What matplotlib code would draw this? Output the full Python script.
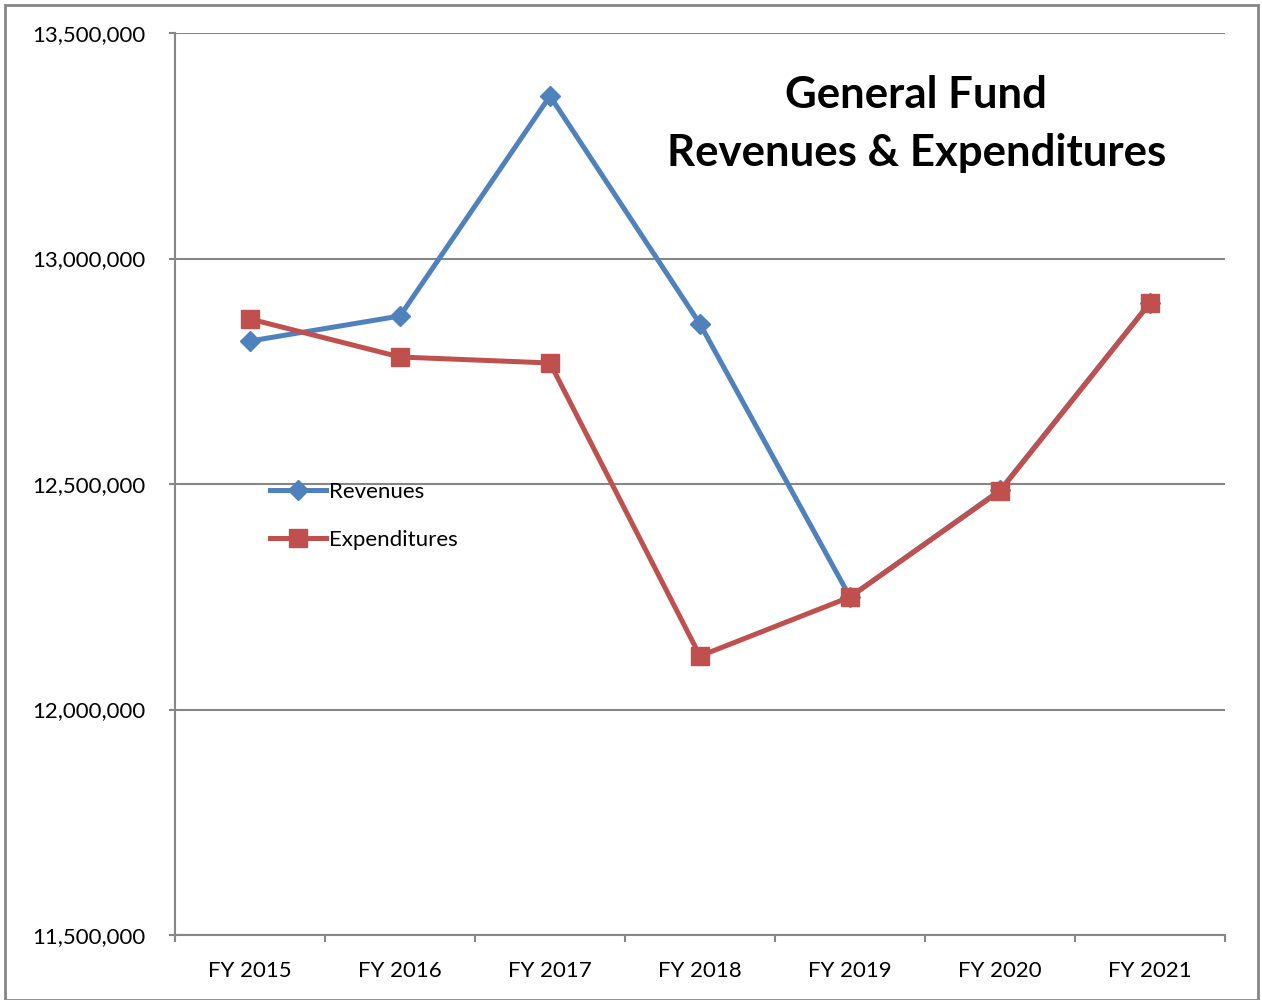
import matplotlib.pyplot as plt
from matplotlib.patches import Rectangle
from matplotlib.ticker import FuncFormatter, FixedLocator

plt.rcParams['font.family'] = ['Lato', 'DejaVu Sans']

years = ['FY 2015', 'FY 2016', 'FY 2017', 'FY 2018', 'FY 2019', 'FY 2020', 'FY 2021']
revenues = [12817000, 12872500, 13360300, 12854800, 12249400, 12486000, 12902000]
expenditures = [12865900, 12781600, 12768300, 12118600, 12249400, 12484500, 12901300]

blue = '#4F81BD'
red = '#C0504D'
gray = '#868686'

fig = plt.figure(figsize=(12.62, 10), dpi=100)
ax = fig.add_axes([175 / 1262, 65 / 1000, 1050 / 1262, 902 / 1000])

x = list(range(len(years)))
ax.plot(x, revenues, color=blue, lw=3.6, marker='D', ms=10, label='Revenues', zorder=3)
ax.plot(x, expenditures, color=red, lw=3.6, marker='s', ms=13, label='Expenditures', zorder=4)

ax.set_xlim(-0.5, len(years) - 0.5)
ax.set_ylim(11500000, 13500000)
ax.set_yticks([11500000, 12000000, 12500000, 13000000, 13500000])
ax.yaxis.set_major_formatter(FuncFormatter(lambda v, p: f'{int(v):,}'))
ax.grid(axis='y', color=gray, lw=1.5)
ax.set_axisbelow(True)

ax.set_xticks(x)
ax.set_xticklabels(years)
ax.xaxis.set_minor_locator(FixedLocator([i - 0.5 for i in range(len(years) + 1)]))
ax.tick_params(axis='x', which='major', length=0, pad=19, labelsize=16)
ax.tick_params(axis='x', which='minor', length=5, width=1.5, color=gray, direction='out')
ax.tick_params(axis='y', length=4.5, width=1.5, color=gray, labelsize=16, pad=17)

for s in ['top', 'right']:
    ax.spines[s].set_visible(False)
for s in ['left', 'bottom']:
    ax.spines[s].set_color(gray)
    ax.spines[s].set_linewidth(1.5)

ax.text(0.706, 0.899, 'General Fund\nRevenues & Expenditures', transform=ax.transAxes,
        ha='center', va='center', fontsize=31.5, fontweight='bold', linespacing=1.55)

leg = ax.legend(loc='upper left', bbox_to_anchor=(270 / 1262, 1 - 482 / 1000),
                bbox_transform=fig.transFigure, frameon=False, fontsize=16,
                handlelength=2.5, handletextpad=0.15, labelspacing=1.25, borderpad=0,
                borderaxespad=0)

fig.patches.append(Rectangle((5 / 1262, 0), 1253 / 1262, 995 / 1000, transform=fig.transFigure,
                             fill=False, edgecolor=gray, lw=2))

fig.savefig('out.png', dpi=100)
